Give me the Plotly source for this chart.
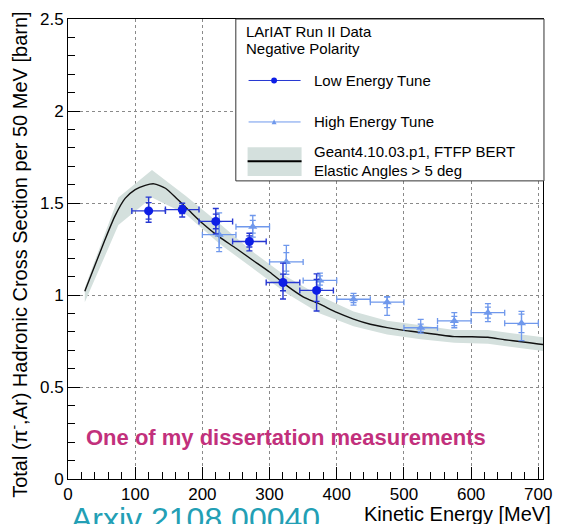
import plotly.graph_objects as go

# ---------------------------------------------------------------- data
# Geant4 prediction (central curve)
mc_energy = [25, 40, 55, 70, 85, 100, 115, 128, 145, 163, 180, 200, 225, 250, 275, 300,
             325, 350, 375, 400, 425, 450, 475, 500, 525, 550, 575, 600, 625, 650,
             675, 700, 707]
mc_xsec = [1.02, 1.16, 1.30, 1.43, 1.525, 1.573, 1.596, 1.604, 1.58, 1.52, 1.46, 1.39,
           1.316, 1.254, 1.189, 1.125, 1.052, 0.99, 0.95, 0.905, 0.869, 0.841, 0.823,
           0.808, 0.797, 0.785, 0.774, 0.773, 0.77, 0.757, 0.746, 0.734, 0.731]

# Geant4 uncertainty band
band_energy = [25, 75, 125, 175, 225, 275, 325, 375, 425, 475, 525, 575, 625, 675, 707]
band_upper = [1.04, 1.53, 1.68, 1.54, 1.39, 1.235, 1.10, 0.995, 0.91, 0.86, 0.835,
              0.81, 0.81, 0.785, 0.77]
band_lower = [0.96, 1.38, 1.53, 1.44, 1.28, 1.145, 1.01, 0.90, 0.83, 0.785, 0.76,
              0.74, 0.735, 0.71, 0.695]

# Low Energy Tune data
le_energy = [120, 170, 220, 270, 320, 370]
le_xsec = [1.457, 1.464, 1.400, 1.291, 1.068, 1.025]
le_err_up = [0.075, 0.035, 0.07, 0.045, 0.105, 0.09]
le_err_down = [0.062, 0.04, 0.068, 0.051, 0.09, 0.112]
le_stat = [0.045, 0.022, 0.04, 0.03, 0.045, 0.06]
le_halfbin = [25, 25, 25, 25, 25, 25]

# High Energy Tune data
he_energy = [225, 275, 325, 375, 425, 475, 525, 575, 625, 675]
he_xsec = [1.328, 1.371, 1.18, 1.079, 0.977, 0.961, 0.822, 0.859, 0.904, 0.846]
he_err_up = [0.118, 0.061, 0.09, 0.04, 0.032, 0.028, 0.046, 0.045, 0.049, 0.065]
he_err_down = [0.092, 0.057, 0.068, 0.045, 0.032, 0.072, 0.029, 0.037, 0.049, 0.094]
he_stat = [0.07, 0.035, 0.05, 0.025, 0.018, 0.03, 0.02, 0.025, 0.03, 0.05]
he_halfbin = [25, 25, 25, 25, 25, 25, 25, 25, 25, 25]

x_tick_labels = ["0", "100", "200", "300", "400", "500", "600", "700"]
y_tick_labels = ["0", "0.5", "1", "1.5", "2", "2.5"]

# ---------------------------------------------------------------- style
W, H = 562, 524
L, R, T, B = 68, 10, 13, 45
FONT = "Liberation Sans, Arial, Helvetica, sans-serif"
LE_COLOR = "#0d1ee6"
LE_BAR = "#2637d2"
HE_COLOR = "#6f98ec"
BAND_COLOR = "#d4e0dd"


def px(x):
    return (x - L) / (W - L - R)


def py(y):
    return (H - B - y) / (H - T - B)


fig = go.Figure()

fig.add_trace(go.Scatter(
    x=band_energy + band_energy[::-1],
    y=band_upper + band_lower[::-1],
    fill="toself", fillcolor=BAND_COLOR, line=dict(width=0),
    mode="lines", hoverinfo="skip", showlegend=False))

fig.add_trace(go.Scatter(
    x=mc_energy, y=mc_xsec, mode="lines",
    line=dict(color="#111111", width=1.4, shape="spline", smoothing=0.6),
    showlegend=False))

# inner (statistical) caps
fig.add_trace(go.Scatter(
    x=he_energy, y=he_xsec, mode="markers",
    marker=dict(size=1, color="rgba(0,0,0,0)"),
    error_y=dict(type="data", array=he_stat, color=HE_COLOR, thickness=1.2, width=3),
    showlegend=False))
fig.add_trace(go.Scatter(
    x=he_energy, y=he_xsec, mode="markers",
    marker=dict(symbol="triangle-up", size=8, color=HE_COLOR),
    error_y=dict(type="data", symmetric=False, array=he_err_up, arrayminus=he_err_down,
                 color=HE_COLOR, thickness=1.3, width=3),
    error_x=dict(type="data", array=he_halfbin, color=HE_COLOR, thickness=1.3, width=3),
    showlegend=False))

fig.add_trace(go.Scatter(
    x=le_energy, y=le_xsec, mode="markers",
    marker=dict(size=1, color="rgba(0,0,0,0)"),
    error_y=dict(type="data", array=le_stat, color=LE_BAR, thickness=1.3, width=3),
    showlegend=False))
fig.add_trace(go.Scatter(
    x=le_energy, y=le_xsec, mode="markers",
    marker=dict(symbol="circle", size=9, color=LE_COLOR),
    error_y=dict(type="data", symmetric=False, array=le_err_up, arrayminus=le_err_down,
                 color=LE_BAR, thickness=1.4, width=3),
    error_x=dict(type="data", array=le_halfbin, color=LE_BAR, thickness=1.4, width=3),
    showlegend=False))

axis_common = dict(
    showline=True, linecolor="black", linewidth=1, mirror=True,
    ticks="inside", ticklen=12, tickcolor="black", tickwidth=1,
    showgrid=True, gridcolor="#8a8a8a", griddash="dot", gridwidth=1,
    zeroline=False, tickfont=dict(family=FONT, size=17, color="black"),
)

fig.update_xaxes(
    range=[0, 707], tickvals=[int(t) for t in x_tick_labels], ticktext=x_tick_labels,
    minor=dict(ticks="inside", ticklen=7, dtick=20, tick0=0, tickcolor="black", showgrid=False),
    **axis_common)
fig.update_yaxes(
    range=[0, 2.5], tickvals=[float(t) for t in y_tick_labels], ticktext=y_tick_labels,
    minor=dict(ticks="inside", ticklen=7, dtick=0.1, tick0=0, tickcolor="black", showgrid=False),
    **axis_common)

shapes = []
# legend box
shapes.append(dict(type="rect", xref="paper", yref="paper",
                   x0=px(239), x1=px(553), y0=py(177), y1=py(13),
                   line=dict(color="#333", width=1), fillcolor="white", layer="above"))
# legend samples
shapes.append(dict(type="line", xref="paper", yref="paper",
                   x0=px(252), x1=px(305), y0=py(75.3), y1=py(75.3),
                   line=dict(color=LE_BAR, width=1), layer="above"))
shapes.append(dict(type="circle", xref="paper", yref="paper",
                   x0=px(275), x1=px(281), y0=py(78.3), y1=py(72.3),
                   line=dict(color=LE_COLOR, width=0), fillcolor=LE_COLOR, layer="above"))
shapes.append(dict(type="line", xref="paper", yref="paper",
                   x0=px(252), x1=px(305), y0=py(117.3), y1=py(117.3),
                   line=dict(color=HE_COLOR, width=1), layer="above"))
shapes.append(dict(type="path", xref="paper", yref="paper",
                   path=f"M {px(275.5)} {py(119.5)} L {px(280.5)} {py(119.5)} L {px(278)} {py(114.5)} Z",
                   line=dict(color=HE_COLOR, width=0), fillcolor=HE_COLOR, layer="above"))
shapes.append(dict(type="rect", xref="paper", yref="paper",
                   x0=px(251), x1=px(306), y0=py(172), y1=py(143),
                   line=dict(width=0), fillcolor=BAND_COLOR, layer="above"))
shapes.append(dict(type="line", xref="paper", yref="paper",
                   x0=px(251), x1=px(306), y0=py(157), y1=py(157),
                   line=dict(color="black", width=2), layer="above"))


def note(text, x, y, size, xanchor="left", yanchor="middle", color="black", angle=0, bold=False):
    return dict(text=f"<b>{text}</b>" if bold else text, xref="paper", yref="paper",
                x=px(x), y=py(y), xanchor=xanchor, yanchor=yanchor, showarrow=False,
                textangle=angle, font=dict(family=FONT, size=size, color=color))


annotations = [
    note("LArIAT Run II Data", 247, 26, 15),
    note("Negative Polarity", 247, 43, 15),
    note("Low Energy Tune", 317, 75, 15),
    note("High Energy Tune", 317, 117, 15),
    note("Geant4.10.03.p1, FTFP BERT", 317, 147, 15),
    note("Elastic Angles > 5 deg", 317, 166, 15),
    note("One of my dissertation measurements", 84, 437, 22, color="#c2307c", bold=True),
    note("Kinetic Energy [MeV]", 562, 514, 20, xanchor="right"),
    note("Total (π<sup>-</sup>,Ar) Hadronic Cross Section per 50 MeV [barn]", 18, 252, 20,
         xanchor="center", angle=-90),
    note("Arxiv 2108.00040", 69, 499, 32, yanchor="top", color="#239fb5"),
]

fig.update_layout(
    width=W, height=H, autosize=False,
    margin=dict(l=L, r=R, t=T, b=B),
    paper_bgcolor="white", plot_bgcolor="white",
    showlegend=False, shapes=shapes, annotations=annotations,
)

fig.write_html("out.html")
